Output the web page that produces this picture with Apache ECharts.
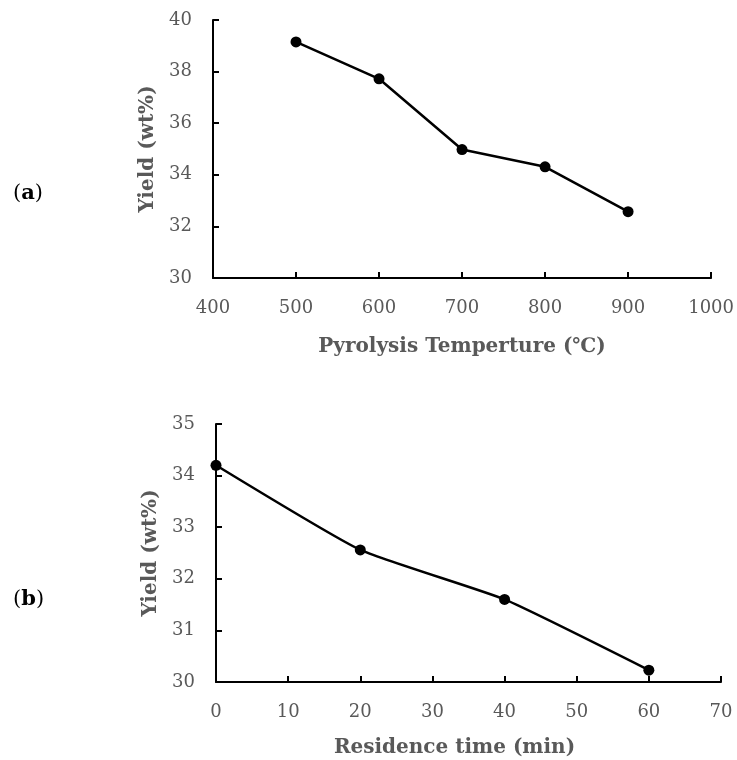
<!DOCTYPE html>
<html>
<head>
<meta charset="utf-8">
<script src="https://cdn.jsdelivr.net/npm/echarts@6/dist/echarts.min.js"></script>
<style>
  html, body { margin: 0; padding: 0; background: #fff; }
  #chart { width: 737px; height: 760px; }
</style>
</head>
<body>
<div id="chart"></div>
<script>
// (a) yield vs pyrolysis temperature
const tempValues = [500, 600, 700, 800, 900]
const tempYield = [39.15, 37.72, 34.98, 34.31, 32.57]

// (b) yield vs residence time
const timeValues = [0, 20, 40, 60]
const timeYield = [34.2, 32.56, 31.6, 30.23]

const labelColor = '#595959'
const serif = '"DejaVu Serif", "Liberation Serif", serif'

const axisLabel = {
  color: labelColor, fontFamily: serif, fontSize: 18, margin: 21,
  formatter: (v) => String(v),
}
const axisLine = { show: true, lineStyle: { color: '#000', width: 2 } }
const axisTick = { show: true, inside: true, length: 6, lineStyle: { color: '#000', width: 2 } }
const nameStyle = { color: labelColor, fontFamily: serif, fontSize: 20, fontWeight: 'bold' }

function xAxis(gridIndex, min, max, interval, name, gap, extra) {
  return {
    type: 'value', gridIndex, min, max, interval,
    name, nameLocation: 'middle', nameGap: gap,
    nameTextStyle: Object.assign({}, nameStyle, extra || {}),
    axisLine, axisTick, axisLabel, splitLine: { show: false },
  }
}

function yAxis(gridIndex, min, max, interval) {
  return {
    type: 'value', gridIndex, min, max, interval,
    name: 'Yield (wt%)', nameLocation: 'middle', nameGap: 53,
    nameTextStyle: nameStyle,
    axisLine, axisTick, axisLabel, splitLine: { show: false },
  }
}

const option = {
  animation: false,
  backgroundColor: '#fff',
  grid: [
    { left: 213, top: 20, right: 23, bottom: 482 },
    { left: 216, top: 424, right: 16, bottom: 78 },
  ],
  xAxis: [
    xAxis(0, 400, 1000, 100, 'Pyrolysis Temperture (℃)', 59),
    xAxis(1, 0, 70, 10, 'Residence time (min)', 56, { padding: [0, 28, 0, 0] }),
  ],
  yAxis: [
    yAxis(0, 30, 40, 2),
    yAxis(1, 30, 35, 1),
  ],
  series: [
    {
      type: 'line', xAxisIndex: 0, yAxisIndex: 0,
      data: tempValues.map((t, i) => [t, tempYield[i]]),
      symbol: 'circle', symbolSize: 11,
      itemStyle: { color: '#000' },
      lineStyle: { color: '#000', width: 2.5 },
    },
    {
      type: 'line', xAxisIndex: 1, yAxisIndex: 1,
      data: timeValues.map((t, i) => [t, timeYield[i]]),
      smooth: 0.15,
      symbol: 'circle', symbolSize: 11,
      itemStyle: { color: '#000' },
      lineStyle: { color: '#000', width: 2.5 },
    },
  ],
  graphic: [
    {
      type: 'text', left: 13, top: 183,
      style: {
        text: '({a|a})',
        fill: '#000', font: '21px ' + serif,
        rich: { a: { fontWeight: 'bold', fontSize: 21, fontFamily: serif, fill: '#000' } },
      },
    },
    {
      type: 'text', left: 13, top: 589,
      style: {
        text: '({a|b})',
        fill: '#000', font: '21px ' + serif,
        rich: { a: { fontWeight: 'bold', fontSize: 21, fontFamily: serif, fill: '#000' } },
      },
    },
  ],
}

const chart = echarts.init(document.getElementById('chart'))
chart.setOption(option)
</script>
</body>
</html>
